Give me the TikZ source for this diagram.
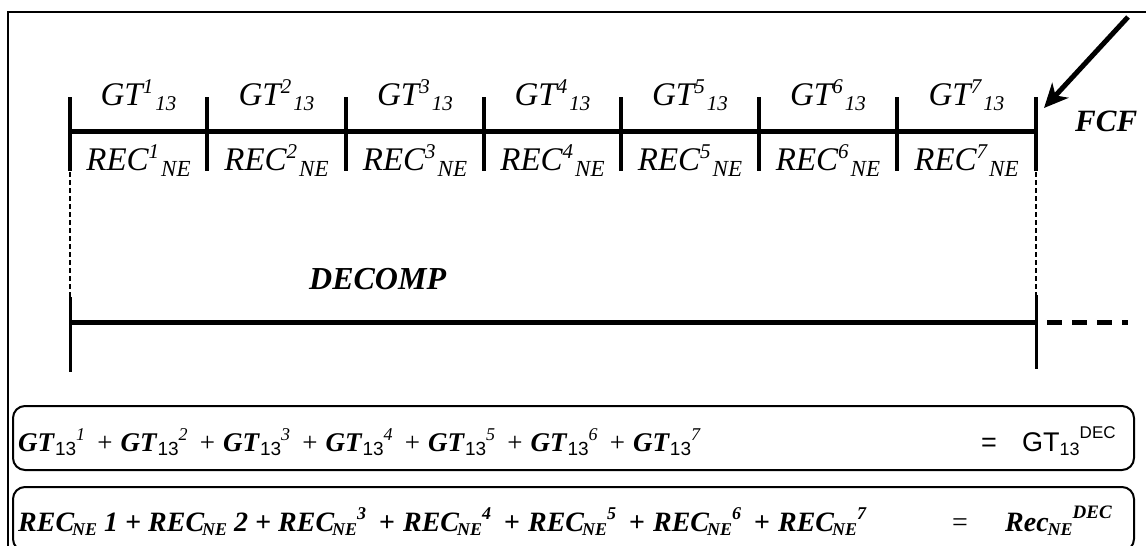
\documentclass[tikz,border=0pt]{standalone}
\usepackage{fontspec}
\setmainfont{Liberation Serif}
\setsansfont{Liberation Sans}
\usetikzlibrary{arrows.meta,calc}
\newcommand{\gtl}[1]{GT\raisebox{0.34em}{\fontsize{21}{21}\selectfont #1}\kern2pt\raisebox{-0.17em}{\fontsize{21}{21}\selectfont 13}}
\newcommand{\recl}[1]{REC\raisebox{0.34em}{\fontsize{21}{21}\selectfont #1}\kern2pt\raisebox{-0.2em}{\fontsize{23}{23}\selectfont NE}}
\newcommand{\eqgt}[1]{\textbf{\textit{GT}}\raisebox{-0.18em}{\normalfont\sffamily\fontsize{19}{19}\selectfont 13}\raisebox{0.4em}{\normalfont\itshape\fontsize{18}{18}\selectfont #1}}
\newcommand{\eqrec}{\textbf{\textit{REC}}\kern-2pt\raisebox{-0.15em}{\bfseries\itshape\fontsize{18}{18}\selectfont NE}}
\newcommand{\eqsup}[1]{\raisebox{0.42em}{\bfseries\itshape\fontsize{18}{18}\selectfont #1}}
\newcommand{\pl}{\hspace{0.45em}+\hspace{0.3em}}
\begin{document}
\begin{tikzpicture}[x=1pt,y=-1pt,
  tick/.style={line width=4pt},
  thintick/.style={line width=3pt},
  axis/.style={line width=5pt},
  guide/.style={line width=2pt,dash pattern=on 5pt off 3pt},
  lab/.style={font=\fontsize{33}{33}\selectfont\itshape,anchor=base,inner sep=0pt},
  eqbox/.style={draw,line width=2pt,rounded corners=12pt,inner sep=0pt},
  eqtext/.style={font=\fontsize{27}{27}\selectfont,anchor=base west,inner sep=0pt},
]
\useasboundingbox (0,0) rectangle (1146,546);
\clip (0,0) rectangle (1146,546);
\draw[line width=2pt] (8,550) -- (8,12) -- (1150,12);
% timeline
\foreach \i/\x in {0/70,1/207,2/346,3/484,4/621,5/759,6/897,7/1036}
  \coordinate (t\i) at (\x,131);
\draw[axis] (t0) -- (t7);
\foreach \i in {0,...,7}
  \draw[tick] ($(t\i)+(0,-34)$) -- ($(t\i)+(0,40)$);
\foreach \j/\i in {0/1,1/2,2/3,3/4,4/5,5/6,6/7}{
  \node[lab] (gt\i) at ($(t\j)!0.5!(t\i)+(0,-26)$) {\gtl{\i}};
  \node[lab] (rec\i) at ($(t\j)!0.5!(t\i)+(0,39)$) {\recl{\i}};
}
% guides and DECOMP
\coordinate (dl) at (70,322);
\coordinate (dr) at (1036,322);
\coordinate (dend) at (1128,322);
\draw[guide] ($(t0)+(0,41)$) -- ($(dl)+(0,-25)$);
\draw[guide] ($(t7)+(0,41)$) -- ($(dr)+(0,-27)$);
\draw[thintick] ($(dl)+(0,-25)$) -- ($(dl)+(0,50)$);
\draw[thintick] ($(dr)+(0,-27)$) -- ($(dr)+(0,47)$);
\draw[axis] ($(dl)+(2,0)$) -- (dr);
\draw[axis,dash pattern=on 15pt off 10pt] ($(dr)+(11,0)$) -- (dend);
\node[anchor=base west,inner sep=0pt,font=\fontsize{32}{32}\selectfont\bfseries\itshape] (decomp) at (309,289) {DECOMP};
% FCF arrow
\node[anchor=base west,inner sep=0pt,font=\fontsize{31}{31}\selectfont\bfseries\itshape] (fcf) at (1075,131) {FCF};
\coordinate (fcfstart) at (1128,17);
\coordinate (fcftip) at (1044,108);
\draw[line width=5pt,-{Stealth[length=24pt,width=22pt,inset=7pt]}] (fcfstart) -- (fcftip);
% equation boxes
\node[eqbox,minimum width=1121pt,minimum height=64pt] (box1) at (573.5,438) {};
\node[eqbox,minimum width=1121pt,minimum height=64pt] (box2) at (573.5,519) {};
\node[eqtext] (sum1) at (18,451) {\eqgt{1}\pl\eqgt{2}\pl\eqgt{3}\pl\eqgt{4}\pl\eqgt{5}\pl\eqgt{6}\pl\eqgt{7}};
\node[eqtext,font=\fontsize{27}{27}\selectfont\sffamily] (eq1) at (981,451) {=};
\node[eqtext,font=\fontsize{27}{27}\selectfont\sffamily] (tot1) at (1022,451) {GT\raisebox{-0.18em}{\fontsize{18}{18}\selectfont 13}\raisebox{0.45em}{\fontsize{17}{17}\selectfont DEC}};
\node[eqtext,font=\fontsize{28}{28}\selectfont\bfseries\itshape] (sum2) at (18,531) {\eqrec\ 1 + \eqrec\ 2 + \eqrec\eqsup{3}\pl\eqrec\eqsup{4}\pl\eqrec\eqsup{5}\pl\eqrec\eqsup{6}\pl\eqrec\eqsup{7}};
\node[eqtext,font=\fontsize{28}{28}\selectfont] (eq2) at (952,531) {=};
\node[eqtext,font=\fontsize{28}{28}\selectfont\bfseries\itshape] (tot2) at (1005,531) {Rec\kern-1pt\raisebox{-0.15em}{\fontsize{18}{18}\selectfont NE}\raisebox{0.45em}{\fontsize{19}{19}\selectfont DEC}};
\end{tikzpicture}
\end{document}
